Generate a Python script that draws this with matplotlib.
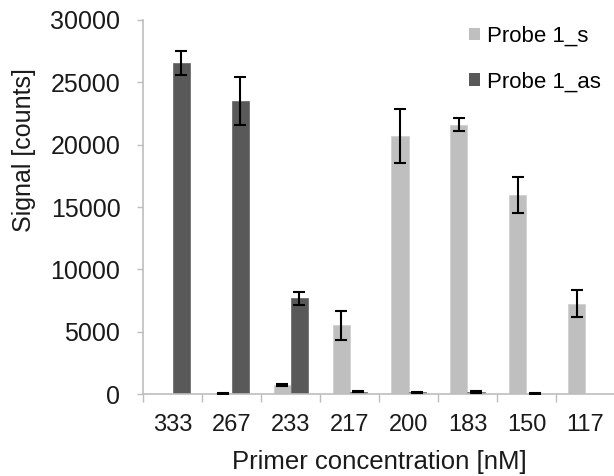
import matplotlib
matplotlib.use("Agg")
import matplotlib.pyplot as plt
import numpy as np
from matplotlib.patches import Patch

plt.rcParams['font.family'] = ['Liberation Sans', 'DejaVu Sans']

categories = ["333", "267", "233", "217", "200", "183", "150", "117"]
probe_s = [0, 80, 750, 5520, 20700, 21600, 15960, 7250]
probe_s_err = [0, 20, 60, 1150, 2160, 520, 1470, 1080]
probe_as = [26550, 23500, 7700, 220, 170, 190, 50, 0]
probe_as_err = [960, 1940, 520, 60, 50, 60, 20, 0]
series_names = ["Probe 1_s", "Probe 1_as"]

light = "#bfbfbf"
dark = "#595959"
axis_gray = "#bdbdbd"

fig = plt.figure(figsize=(6.14, 4.76), dpi=100)
ax = fig.add_axes([0.2334, 0.1716, 0.7680, 0.7870])

x = np.arange(len(categories))
w = 0.29
ekw = dict(ecolor="black", elinewidth=1.5, capsize=4.3, capthick=1.5, fmt="none", zorder=3)

for offset, vals, errs, col, edge in [(-w / 2, probe_s, probe_s_err, light, "#d0d0d0"),
                                      (w / 2, probe_as, probe_as_err, dark, "#707070")]:
    ax.bar(x + offset, vals, w, color=col, edgecolor=edge, linewidth=0.6, zorder=2)
    v = np.array(vals, dtype=float)
    e = np.array(errs, dtype=float)
    m = v > 0
    ax.errorbar(x[m] + offset, v[m], yerr=e[m], **ekw)

ax.set_xlim(-0.5, len(categories) - 0.5)
ax.set_ylim(0, 30000)
ax.set_yticks(np.arange(0, 30001, 5000))
ax.set_xticks(x)
ax.set_xticklabels(categories)
ax.set_xticks(np.arange(-0.5, len(categories) + 0.5, 1), minor=True)
ax.tick_params(axis="x", which="major", length=0, pad=14, labelsize=17, colors="#1a1a1a")
ax.tick_params(axis="x", which="minor", length=6, width=1, color=axis_gray)
ax.tick_params(axis="y", length=4.5, width=1, color=axis_gray, pad=12, labelsize=18,
               labelcolor="#1a1a1a")

for s in ["top", "right"]:
    ax.spines[s].set_visible(False)
for s in ["left", "bottom"]:
    ax.spines[s].set_color(axis_gray)
    ax.spines[s].set_linewidth(1.2)

ax.set_xlabel("Primer concentration [nM]", fontsize=18.5, color="#1a1a1a", labelpad=10)
ax.set_ylabel("Signal [counts]", fontsize=18, color="#1a1a1a")
ax.yaxis.set_label_coords(-0.228, 0.653, transform=ax.transAxes)

handles = [Patch(facecolor=light, edgecolor="none"), Patch(facecolor=dark, edgecolor="none")]
fig.legend(handles, series_names, loc="upper left", bbox_to_anchor=(469 / 614, 1 - 26 / 476),
           frameon=False, fontsize=16, handlelength=0.5, handleheight=0.5,
           handletextpad=0.3, labelspacing=1.1, borderpad=0, borderaxespad=0)

fig.savefig("out.png", dpi=100)
